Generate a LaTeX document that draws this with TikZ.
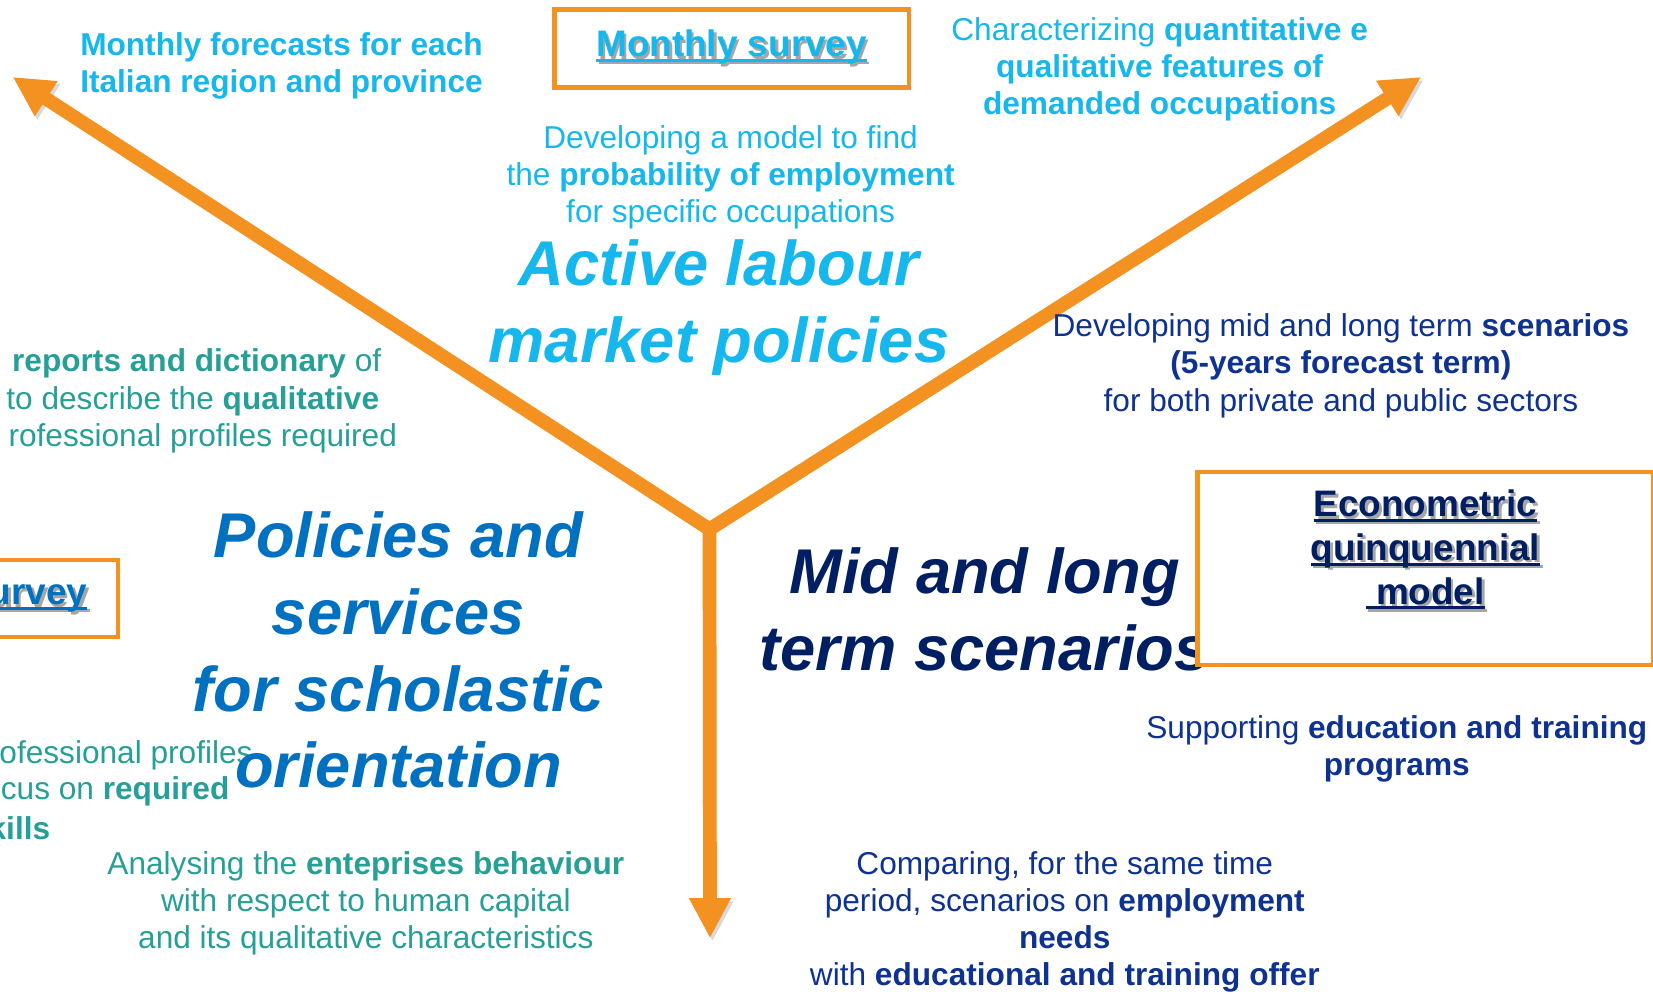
\documentclass[tikz,border=0pt]{standalone}
\usepackage{fontspec}
\setmainfont{Liberation Sans}
\usetikzlibrary{arrows.meta}

\definecolor{arrorange}{RGB}{243,146,32}
\definecolor{skyblue}{RGB}{22,183,237}
\definecolor{midblue}{RGB}{0,112,192}
\definecolor{deepblue}{RGB}{14,50,146}
\definecolor{navyblue}{RGB}{0,30,98}
\definecolor{tealgreen}{RGB}{38,160,150}

\newcommand{\notefont}{\fontsize{15pt}{17.6pt}\selectfont}
\newcommand{\surveytitle}[1]{\setbox0=\hbox{#1}%
  \rlap{\kern1.2pt\raisebox{-1.2pt}{\color{black!35}\rule[-0.14em]{\wd0}{0.08em}\kern-\wd0\copy0}}%
  \rlap{\rule[-0.14em]{\wd0}{0.08em}}\box0}

\tikzset{
  flow/.style={line width=6.5pt, draw=arrorange, line cap=butt,
    preaction={draw=black, opacity=0.15, transform canvas={shift={(1.2pt,-1.5pt)}}}},
  flowtip/.style={-{Triangle[length=19pt,width=18.5pt]}},
  note/.style={inner sep=0pt, align=center, font=\notefont},
  notebold/.style={note, font=\notefont\bfseries},
  headline/.style={inner sep=0pt, align=center,
    font=\fontsize{30pt}{36.5pt}\selectfont\bfseries\itshape},
  surveybox/.style={draw=arrorange, line width=2pt, fill=white, inner sep=0pt},
  boxtext/.style={inner sep=0pt, align=center,
    font=\fontsize{17.5pt}{20.8pt}\selectfont\bfseries},
}

\begin{document}
\begin{tikzpicture}[x=0.5pt,y=-0.5pt]
  \useasboundingbox (0,0) rectangle (1568,943);
  \clip (0,0) rectangle (1568,943);

  % the three arrows
  \coordinate (hub) at (673,502);
  \coordinate (hubtop) at (673,497);
  \coordinate (tipnw) at (12,73);
  \coordinate (tipne) at (1348,73);
  \coordinate (tips) at (673.5,890);
  \draw[flow, line join=miter,
    {Triangle[length=19pt,width=18.5pt]}-{Triangle[length=19pt,width=18.5pt]}]
    (tipnw) -- (hub) -- (tipne);
  \draw[flow, flowtip] (hubtop) -- (tips);

  % active labour market policies
  \node[notebold, text=skyblue] (forecast) at (267,62.5)
    {Monthly forecasts for each\\Italian region and province};
  \node[surveybox, boxtext, text=skyblue, minimum width=168pt, minimum height=37pt]
    (monthlybox) at (694,46) {\surveytitle{Monthly survey}};
  \node[note, text=skyblue] (probmodel) at (693,168)
    {Developing a model to find\\the \textbf{probability of employment}\\for specific occupations};
  \node[headline, text=skyblue] (active) at (682,291.5) {Active labour\\market policies};
  \node[note, text=skyblue] (features) at (1100,66)
    {Characterizing \textbf{quantitative e}\\\textbf{qualitative features of}\\\textbf{demanded occupations}};

  % mid and long term scenarios
  \node[note, text=deepblue] (scennote) at (1272,347)
    {Developing mid and long term \textbf{scenarios}\\\textbf{(5-years forecast term)}\\for both private and public sectors};
  \node[headline, text=navyblue] (midlong) at (934,578) {Mid and long\\term scenarios};
  \node[surveybox, anchor=north west, minimum width=216pt, minimum height=91.5pt]
    (econbox) at (1134,446) {};
  \node[boxtext, text=navyblue] (econtitle) at (1352,522.5)
    {\surveytitle{Econometric}\\\surveytitle{quinquennial}\\\surveytitle{\ model}};
  \node[note, text=deepblue] (training) at (1325,710.5)
    {Supporting \textbf{education and training}\\\textbf{programs}};
  \node[note, text=deepblue] (comparing) at (1010,874.5)
    {Comparing, for the same time\\period, scenarios on \textbf{employment}\\\textbf{needs}\\with \textbf{educational and training offer}};

  % scholastic orientation
  \node[note, text=tealgreen, anchor=east] (dictline) at (362,345) {\textbf{reports and dictionary} of};
  \node[note, text=tealgreen, anchor=east] (qualline) at (360,381) {to describe the \textbf{qualitative}};
  \node[note, text=tealgreen, anchor=east] (profline) at (377,416) {rofessional profiles required};
  \node[surveybox, anchor=east, minimum width=82pt, minimum height=36.5pt]
    (annualbox) at (114,567.5) {};
  \node[boxtext, text=midblue, anchor=east] (annualtitle) at (83,569) {\surveytitle{urvey}};
  \node[note, text=tealgreen, anchor=east] (skillprof) at (240,716) {ofessional profiles};
  \node[note, text=tealgreen, anchor=east] (focusline) at (218,751) {cus on \textbf{required}};
  \node[notebold, text=tealgreen, anchor=east] (skillsline) at (48,786) {kills};
  \node[headline, text=midblue] (policies) at (378,616.5)
    {Policies and\\services\\for scholastic\\orientation};
  \node[note, text=tealgreen] (enterprises) at (347,857)
    {Analysing the \textbf{enteprises behaviour}\\with respect to human capital\\and its qualitative characteristics};
\end{tikzpicture}
\end{document}
